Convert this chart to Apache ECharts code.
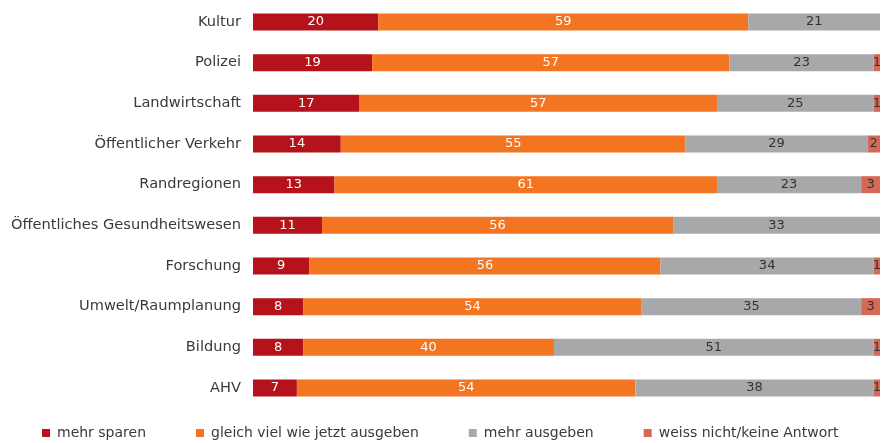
<!DOCTYPE html>
<html><head><meta charset="utf-8">
<script src="https://cdn.jsdelivr.net/npm/echarts@6/dist/echarts.min.js"></script>
<style>html,body{margin:0;padding:0;background:#fff}#c{width:893px;height:443px}</style>
</head><body><div id="c"></div>
<script>
const categories = ["Kultur","Polizei","Landwirtschaft","Öffentlicher Verkehr","Randregionen","Öffentliches Gesundheitswesen","Forschung","Umwelt/Raumplanung","Bildung","AHV"];
const mehrSparen = [20,19,17,14,13,11,9,8,8,7];
const gleichViel = [59,57,57,55,61,56,56,54,40,54];
const mehrAusgeben = [21,23,25,29,23,33,34,35,51,38];
const weissNicht = [0,1,1,2,3,0,1,3,1,1];
const seriesNames = ["mehr sparen","gleich viel wie jetzt ausgeben","mehr ausgeben","weiss nicht/keine Antwort"];
const colors = ["#B5121B","#F47521","#A7A8AA","#D46A55"];
const labelColors = ["#ffffff","#ffffff","#333333","#333333"];
const FONT = "DejaVu Sans";
const chart = echarts.init(document.getElementById('c'));
const datasets = [mehrSparen, gleichViel, mehrAusgeben, weissNicht];
chart.setOption({
  animation:false,
  textStyle:{fontFamily:FONT},
  grid:{left:253,right:13,top:1.7,bottom:34.7,containLabel:false},
  legend:{
    bottom:3,left:42,padding:0,itemWidth:8,itemHeight:8,itemGap:50,icon:'rect',
    textStyle:{fontFamily:FONT,fontSize:14,color:'#3a3a3a',padding:[0,0,0,2]},
    data:seriesNames
  },
  xAxis:{type:'value',min:0,max:100,show:false},
  yAxis:{type:'category',data:categories,inverse:true,
    axisLine:{show:false},axisTick:{show:false},
    axisLabel:{fontFamily:FONT,fontSize:14.6,color:'#3a3a3a',margin:12}},
  series: datasets.map((d,i)=>({
    name:seriesNames[i],type:'bar',stack:'t',barWidth:17,
    itemStyle:{color:colors[i]},
    data:d.map(v=>v===0?null:v),
    label:{show:true,position:'inside',fontFamily:FONT,fontSize:13,color:labelColors[i]}
  }))
});
</script></body></html>
